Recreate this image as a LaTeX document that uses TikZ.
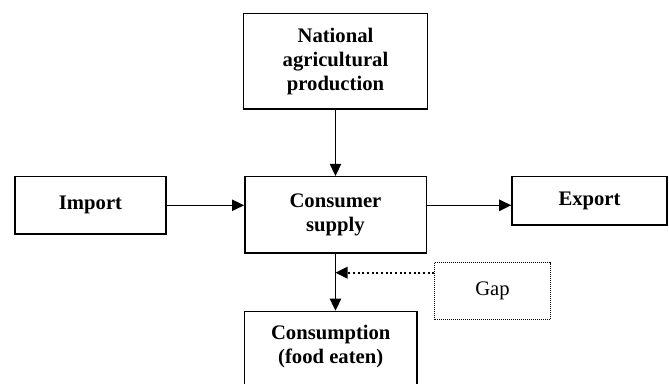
\documentclass[tikz,border=0pt]{standalone}
\usepackage{fontspec}
\setmainfont{Liberation Serif}
\usepackage{tikz}
\usetikzlibrary{arrows.meta}

\begin{document}
\begin{tikzpicture}[x=0.75pt,y=-0.75pt,
    box/.style={draw,line width=1.1pt,align=center,font=\fontsize{15.5}{18}\selectfont\bfseries},
    gapbox/.style={draw,line width=0.75pt,dash pattern=on 0.75pt off 0.75pt,font=\fontsize{15.5}{18}\selectfont},
    flow/.style={line width=1.1pt,-{Triangle[length=9pt,width=8.5pt]}},
    gapflow/.style={line width=1.5pt,dash pattern=on 1.5pt off 2pt,-{Triangle[length=9pt,width=8.5pt]}}]
  \clip (0,0) rectangle (669,384);
  \begin{scope}
    \node[box,minimum width=138.3pt,minimum height=71.8pt] (national) at (335.5,61.2) {National\\agricultural\\production};
    \node[box,minimum width=113.3pt,minimum height=43pt] (import) at (90.5,205.3) {Import};
    \node[box,minimum width=136.1pt,minimum height=57.2pt] (supply) at (335.5,214.8) {Consumer\\supply};
    \node[box,minimum width=116.3pt,minimum height=36.2pt] (export) at (589.5,200.8) {Export};
    \node[gapbox,minimum width=86.3pt,minimum height=43pt] (gap) at (492.5,291.3) {Gap};
    \node[box,anchor=north,minimum width=129.4pt,inner ysep=10pt,text depth=60pt] (consumption) at (330.75,310.7) {Consumption\\(food eaten)};
    \coordinate (gapjoin) at (335.5,272.7);

    \draw[flow] (national.south) -- (supply.north);
    \draw[flow] (import.east) -- (import.east -| supply.west);
    \draw[flow] (import.east -| supply.east) -- (import.east -| export.west);
    \draw[flow] (supply.south) -- (supply.south |- consumption.north);
    \draw[gapflow] (gap.west |- gapjoin) -- (gapjoin);
  \end{scope}
\end{tikzpicture}
\end{document}
